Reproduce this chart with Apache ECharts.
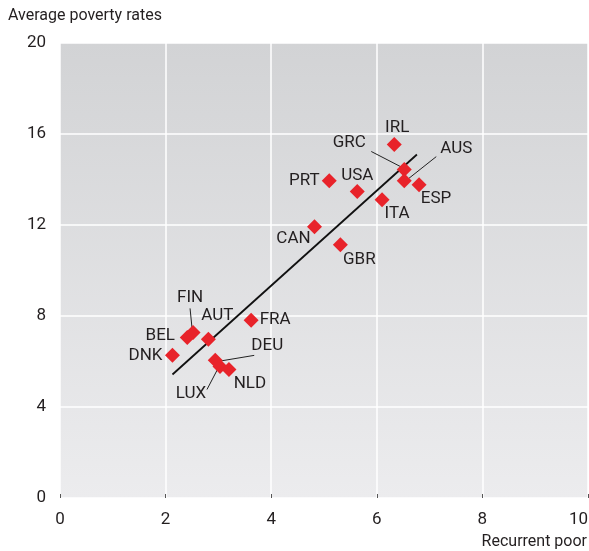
<!DOCTYPE html>
<html><head><meta charset="utf-8">
<script src="https://cdn.jsdelivr.net/npm/echarts@6/dist/echarts.min.js"></script>
<style>html,body{margin:0;padding:0;background:#fff}#c{width:589px;height:551px}</style>
</head><body><div id="c"></div>
<script>
const countries = ['IRL','GRC','AUS','ESP','USA','PRT','ITA','CAN','GBR','FRA','FIN','BEL','AUT','DNK','DEU','LUX','NLD'];
const recurrentPoor = [6.33,6.52,6.52,6.80,5.63,5.10,6.10,4.82,5.31,3.62,2.52,2.41,2.81,2.13,2.94,3.03,3.20];
const avgPoverty = [15.54,14.44,13.95,13.77,13.47,13.95,13.11,11.92,11.13,7.81,7.28,7.06,6.98,6.27,6.05,5.78,5.65];
const fitX = [2.13, 6.76];
const fitY = [5.43, 15.10];
const xTicks = [0,2,4,6,8,10];
const yTicks = [0,4,8,12,16,20];

// label placement (pixels, styling only)
const labelOffset = {IRL:[3,-17],GRC:[-55,-27],AUS:[52,-32],ESP:[17,14],USA:[0,-16],PRT:[-25,0],ITA:[15,14],
  CAN:[-21,12],GBR:[19,15],FRA:[24,-1],FIN:[-3,-35],BEL:[-27,-2],AUT:[9,-23],DNK:[-27,0],DEU:[52,-15],LUX:[-29,27],NLD:[21,14]};
const leader = {GRC:[[-2,-2],[-33,-18]],AUS:[[3,-1],[32,-24]],FIN:[[-1,-4],[-3,-24]],DEU:[[3,1],[39,-5]],LUX:[[-2,2],[-13,23]]};

const FONT = "Roboto,'Liberation Sans',sans-serif";
const TXT = '#231f20';
const chart = echarts.init(document.getElementById('c'), null, {renderer:'canvas'});
const pts = countries.map((c,i)=>({name:c, value:[recurrentPoor[i], avgPoverty[i]],
  label:{offset:labelOffset[c]}}));
chart.setOption({
  animation:false,
  grid:{left:60,right:1,top:43,bottom:53,outerBoundsMode:'none',containLabel:false},
  graphic:[
    {type:'text',left:8,top:8,style:{text:'Average poverty rates',font:"16px "+FONT,fill:TXT}},
    {type:'text',right:2,top:534,style:{text:'Recurrent poor',font:"16px "+FONT,fill:TXT}}
  ],
  xAxis:{type:'value',min:xTicks[0],max:xTicks[xTicks.length-1],interval:2,
    axisLine:{show:false},axisTick:{show:true,inside:true,length:4,lineStyle:{color:'#555'}},
    axisLabel:{fontFamily:FONT,fontSize:17,color:TXT,margin:13,alignMaxLabel:'right',
      formatter:v=>xTicks.includes(v)?String(v):''},
    splitLine:{lineStyle:{color:'#fff',width:1.5}}},
  yAxis:{type:'value',min:yTicks[0],max:yTicks[yTicks.length-1],interval:4,
    axisLine:{show:false},axisTick:{show:false},
    axisLabel:{fontFamily:FONT,fontSize:17,color:TXT,margin:14,
      formatter:v=>yTicks.includes(v)?String(v):''},
    splitLine:{lineStyle:{color:'#fff',width:1.5}}},
  series:[
    {type:'custom',silent:true,
      renderItem:(params,api)=>{
        const cs = params.coordSys;
        return {type:'rect',shape:{x:cs.x,y:cs.y,width:cs.width,height:cs.height},
          style:{fill:new echarts.graphic.LinearGradient(0,0,0,1,[{offset:0,color:'#d2d3d5'},{offset:1,color:'#ececee'}])},z2:-10};
      },
      data:[[0,0]], clip:false, z:-1},
    {type:'line',data:fitX.map((x,i)=>[x,fitY[i]]),symbol:'none',lineStyle:{color:'#111',width:1.8},z:3,silent:true},
    {type:'custom',z:4,silent:true,
      data:countries.map((c,i)=>[recurrentPoor[i],avgPoverty[i],i]),
      renderItem:(params,api)=>{
        const c = countries[api.value(2)];
        const l = leader[c];
        if(!l) return null;
        const p = api.coord([api.value(0),api.value(1)]);
        return {type:'line',shape:{x1:p[0]+l[0][0],y1:p[1]+l[0][1],x2:p[0]+l[1][0],y2:p[1]+l[1][1]},
          style:{stroke:'#222',lineWidth:1}};
      }},
    {type:'scatter',data:pts,symbol:'diamond',symbolSize:15,z:5,
      itemStyle:{color:'#e8232a',opacity:1},
      label:{show:true,position:'inside',formatter:'{b}',fontFamily:FONT,fontSize:17,color:TXT}}
  ]
});
</script></body></html>
